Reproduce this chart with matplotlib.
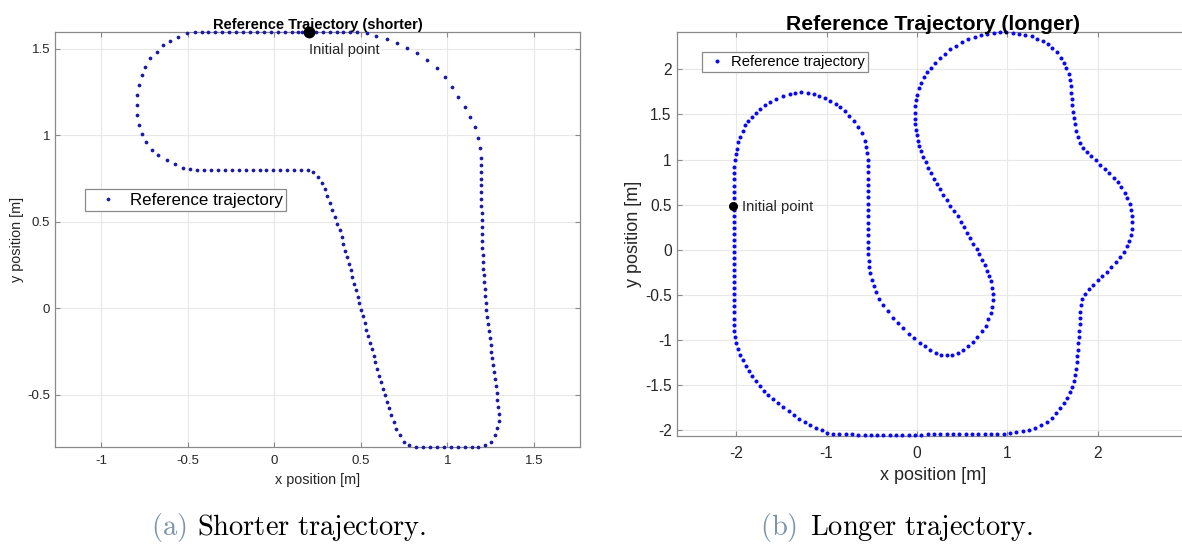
import matplotlib.pyplot as plt

plt.rcParams['font.family'] = ['Liberation Sans', 'DejaVu Sans']
plt.rcParams['mathtext.fontset'] = 'cm'

# ---- shorter trajectory (dots, in path order) ----
short_xy = [
    (0.20, 1.60), (0.24, 1.60), (0.28, 1.60), (0.32, 1.60), (0.36, 1.60), (0.40, 1.60), (0.44, 1.60), (0.48, 1.598),
    (0.535, 1.59), (0.59, 1.576), (0.65, 1.557), (0.708, 1.532), (0.766, 1.506), (0.824, 1.474), (0.88, 1.435),
    (0.94, 1.387), (0.987, 1.339), (1.026, 1.281), (1.064, 1.223), (1.103, 1.165), (1.132, 1.108), (1.161, 1.05),
    (1.18, 0.983), (1.19, 0.925), (1.194, 0.87),
    (1.195, 0.83), (1.195, 0.79), (1.195, 0.75), (1.196, 0.71), (1.196, 0.67), (1.197, 0.63), (1.197, 0.59),
    (1.198, 0.55), (1.199, 0.51), (1.200, 0.47), (1.201, 0.43), (1.202, 0.39), (1.203, 0.35), (1.204, 0.31),
    (1.205, 0.27), (1.207, 0.23), (1.210, 0.19), (1.213, 0.15), (1.216, 0.11), (1.219, 0.07), (1.222, 0.03),
    (1.226, -0.01), (1.230, -0.05), (1.235, -0.09), (1.240, -0.13), (1.245, -0.17), (1.250, -0.21), (1.255, -0.25),
    (1.260, -0.29), (1.265, -0.33), (1.270, -0.37), (1.275, -0.41), (1.280, -0.45), (1.285, -0.49), (1.290, -0.53),
    (1.294, -0.57), (1.297, -0.61), (1.297, -0.65), (1.290, -0.69),
    (1.275, -0.735), (1.25, -0.77), (1.22, -0.792),
    (1.18, -0.80), (1.14, -0.80), (1.10, -0.80), (1.06, -0.80), (1.02, -0.80), (0.98, -0.80), (0.94, -0.80),
    (0.90, -0.80), (0.86, -0.80), (0.82, -0.80),
    (0.78, -0.792), (0.75, -0.77), (0.725, -0.735), (0.705, -0.695),
    (0.690, -0.655), (0.677, -0.617), (0.665, -0.579), (0.652, -0.541), (0.640, -0.503), (0.627, -0.465),
    (0.615, -0.427), (0.605, -0.389), (0.595, -0.351), (0.584, -0.313), (0.574, -0.275), (0.564, -0.237),
    (0.554, -0.199), (0.543, -0.161), (0.533, -0.123), (0.523, -0.085), (0.513, -0.047), (0.502, -0.009),
    (0.492, 0.029), (0.482, 0.067), (0.472, 0.105), (0.461, 0.143), (0.451, 0.181), (0.441, 0.219),
    (0.431, 0.257), (0.420, 0.295), (0.410, 0.333), (0.400, 0.371), (0.390, 0.414), (0.378, 0.452),
    (0.365, 0.490), (0.351, 0.530), (0.335, 0.570), (0.321, 0.610), (0.307, 0.650), (0.292, 0.690),
    (0.274, 0.727), (0.252, 0.760), (0.225, 0.785), (0.195, 0.798),
    (0.155, 0.80), (0.115, 0.80), (0.075, 0.80), (0.035, 0.80), (-0.005, 0.80), (-0.045, 0.80), (-0.085, 0.80),
    (-0.125, 0.80), (-0.165, 0.80), (-0.205, 0.80), (-0.245, 0.80), (-0.285, 0.80), (-0.325, 0.80),
    (-0.365, 0.80), (-0.405, 0.80), (-0.445, 0.80), (-0.485, 0.803),
    (-0.525, 0.813), (-0.573, 0.832), (-0.621, 0.855), (-0.67, 0.884), (-0.708, 0.913), (-0.741, 0.96),
    (-0.766, 1.01), (-0.781, 1.06), (-0.791, 1.117), (-0.795, 1.175), (-0.791, 1.233), (-0.781, 1.291),
    (-0.766, 1.349), (-0.747, 1.397), (-0.718, 1.445), (-0.68, 1.483), (-0.641, 1.522), (-0.602, 1.545),
    (-0.554, 1.57), (-0.506, 1.59),
    (-0.46, 1.598), (-0.42, 1.60), (-0.38, 1.60), (-0.34, 1.60), (-0.30, 1.60), (-0.26, 1.60), (-0.22, 1.60),
    (-0.18, 1.60), (-0.14, 1.60), (-0.10, 1.60), (-0.06, 1.60), (-0.02, 1.60), (0.02, 1.60), (0.06, 1.60),
    (0.10, 1.60), (0.14, 1.60), (0.16, 1.60),
]
short_start = (0.2, 1.6)

# ---- longer trajectory ----
long_xy = [
    (-2.03, 0.50), (-2.03, 0.57), (-2.03, 0.64), (-2.03, 0.71), (-2.028, 0.78), (-2.025, 0.85), (-2.02, 0.92),
    (-2.01, 0.99), (-2.0, 1.06),
    (-1.99, 1.12), (-1.975, 1.19), (-1.96, 1.25), (-1.93, 1.32), (-1.90, 1.38), (-1.865, 1.43), (-1.83, 1.47),
    (-1.78, 1.52), (-1.74, 1.56), (-1.68, 1.605), (-1.63, 1.64), (-1.56, 1.675), (-1.48, 1.70), (-1.41, 1.725),
    (-1.35, 1.74), (-1.28, 1.745), (-1.21, 1.74), (-1.14, 1.728), (-1.08, 1.705), (-1.02, 1.68), (-0.96, 1.65),
    (-0.90, 1.615), (-0.85, 1.58), (-0.80, 1.54), (-0.75, 1.48), (-0.70, 1.43), (-0.65, 1.36), (-0.61, 1.29),
    (-0.58, 1.21), (-0.56, 1.14), (-0.55, 1.07), (-0.54, 1.0),
    (-0.538, 0.93), (-0.538, 0.86), (-0.538, 0.79), (-0.538, 0.72), (-0.538, 0.65), (-0.538, 0.58),
    (-0.538, 0.51), (-0.538, 0.44), (-0.538, 0.37), (-0.538, 0.30), (-0.538, 0.23), (-0.538, 0.16),
    (-0.538, 0.09), (-0.538, 0.02), (-0.536, -0.05), (-0.534, -0.12), (-0.53, -0.19),
    (-0.52, -0.26), (-0.50, -0.33), (-0.478, -0.40), (-0.45, -0.47), (-0.415, -0.54), (-0.37, -0.61),
    (-0.32, -0.68), (-0.27, -0.75), (-0.21, -0.81), (-0.15, -0.87), (-0.09, -0.93), (-0.03, -0.98),
    (0.03, -1.03), (0.09, -1.07), (0.15, -1.11), (0.21, -1.14), (0.27, -1.16), (0.33, -1.17), (0.39, -1.165),
    (0.45, -1.14), (0.51, -1.11), (0.57, -1.07), (0.62, -1.02), (0.67, -0.96), (0.72, -0.90), (0.76, -0.84),
    (0.79, -0.77), (0.815, -0.70), (0.83, -0.63), (0.84, -0.56), (0.84, -0.49), (0.835, -0.42), (0.82, -0.35),
    (0.80, -0.29), (0.78, -0.23), (0.75, -0.17), (0.72, -0.11), (0.69, -0.05), (0.66, 0.01), (0.625, 0.07),
    (0.59, 0.13), (0.555, 0.19), (0.52, 0.25), (0.485, 0.31), (0.45, 0.37), (0.41, 0.43), (0.37, 0.49),
    (0.33, 0.55), (0.29, 0.61), (0.255, 0.67), (0.22, 0.73), (0.19, 0.79), (0.155, 0.85), (0.125, 0.91),
    (0.095, 0.97), (0.07, 1.03), (0.045, 1.09), (0.025, 1.15), (0.01, 1.21), (0.0, 1.27), (-0.01, 1.33),
    (-0.02, 1.39), (-0.025, 1.45), (-0.025, 1.52), (-0.02, 1.59), (-0.01, 1.66), (0.005, 1.72), (0.025, 1.79),
    (0.05, 1.85), (0.08, 1.91), (0.115, 1.97), (0.155, 2.02), (0.2, 2.07), (0.25, 2.12), (0.31, 2.17),
    (0.37, 2.22), (0.43, 2.26), (0.50, 2.30), (0.57, 2.335), (0.64, 2.36), (0.71, 2.38), (0.78, 2.395),
    (0.85, 2.405), (0.92, 2.41), (0.99, 2.41), (1.06, 2.405), (1.13, 2.395), (1.20, 2.38), (1.27, 2.365),
    (1.33, 2.34), (1.39, 2.315), (1.45, 2.285), (1.50, 2.24), (1.55, 2.19), (1.59, 2.13), (1.625, 2.07),
    (1.655, 2.01), (1.68, 1.95), (1.695, 1.88), (1.705, 1.81), (1.71, 1.74), (1.715, 1.67), (1.72, 1.60),
    (1.725, 1.53), (1.733, 1.46), (1.745, 1.39), (1.76, 1.32), (1.78, 1.25), (1.805, 1.185), (1.84, 1.13),
    (1.88, 1.08), (1.93, 1.035), (1.98, 0.99), (2.03, 0.945), (2.08, 0.90), (2.13, 0.85), (2.18, 0.80),
    (2.22, 0.75), (2.26, 0.695), (2.30, 0.635), (2.33, 0.575), (2.355, 0.51), (2.37, 0.445), (2.38, 0.375),
    (2.385, 0.305), (2.38, 0.235), (2.37, 0.165), (2.35, 0.10), (2.32, 0.04), (2.29, -0.02), (2.245, -0.08),
    (2.20, -0.135), (2.15, -0.19), (2.10, -0.24), (2.05, -0.29), (2.00, -0.335), (1.95, -0.385), (1.90, -0.435),
    (1.86, -0.49), (1.83, -0.55), (1.815, -0.615), (1.805, -0.685), (1.80, -0.755), (1.80, -0.825),
    (1.795, -0.895), (1.79, -0.965), (1.785, -1.035), (1.78, -1.105), (1.775, -1.175), (1.77, -1.245),
    (1.76, -1.315), (1.75, -1.385), (1.735, -1.45), (1.715, -1.515), (1.69, -1.58), (1.66, -1.64),
    (1.625, -1.70), (1.585, -1.755), (1.54, -1.81), (1.49, -1.86), (1.435, -1.905), (1.375, -1.945),
    (1.31, -1.975), (1.24, -1.995), (1.17, -2.01), (1.10, -2.02), (1.03, -2.03),
    (0.96, -2.035), (0.89, -2.037), (0.82, -2.038), (0.75, -2.04), (0.68, -2.04), (0.61, -2.042),
    (0.54, -2.042), (0.47, -2.043), (0.40, -2.043), (0.33, -2.044), (0.26, -2.044), (0.19, -2.045),
    (0.12, -2.045), (0.05, -2.046), (-0.02, -2.046), (-0.09, -2.047), (-0.16, -2.047), (-0.23, -2.048),
    (-0.30, -2.048), (-0.37, -2.048), (-0.44, -2.048), (-0.51, -2.048), (-0.58, -2.047), (-0.65, -2.046),
    (-0.72, -2.045), (-0.79, -2.043), (-0.86, -2.04), (-0.93, -2.035),
    (-0.99, -2.025), (-1.055, -2.0), (-1.12, -1.975), (-1.18, -1.945), (-1.24, -1.91), (-1.30, -1.875),
    (-1.36, -1.835), (-1.42, -1.79), (-1.48, -1.745), (-1.54, -1.70), (-1.595, -1.655), (-1.645, -1.61),
    (-1.695, -1.56), (-1.74, -1.51), (-1.785, -1.455), (-1.825, -1.40), (-1.86, -1.345), (-1.895, -1.285),
    (-1.925, -1.225), (-1.955, -1.165), (-1.98, -1.10), (-2.0, -1.035), (-2.012, -0.965), (-2.02, -0.895),
    (-2.025, -0.828), (-2.028, -0.761), (-2.03, -0.694), (-2.03, -0.627), (-2.03, -0.560), (-2.03, -0.493),
    (-2.03, -0.426), (-2.03, -0.359), (-2.03, -0.292), (-2.03, -0.225), (-2.03, -0.158), (-2.03, -0.091),
    (-2.03, -0.024), (-2.03, 0.043), (-2.03, 0.110), (-2.03, 0.177), (-2.03, 0.244), (-2.03, 0.311),
    (-2.03, 0.378), (-2.03, 0.445),
]
long_start = (-2.035, 0.49)

short_xlim = (-1.267, 1.767)
short_ylim = (-0.8, 1.6)
short_xticks = [-1, -0.5, 0, 0.5, 1, 1.5]
short_yticks = [-0.5, 0, 0.5, 1, 1.5]
long_xlim = (-2.652, 3.0)
long_ylim = (-2.06, 2.41)
long_xticks = [-2, -1, 0, 1, 2]
long_yticks = [-2, -1.5, -1, -0.5, 0, 0.5, 1, 1.5, 2]


def tick_fmt(v):
    return '%g' % v


def style_axes(ax, xticks, yticks, xlim, ylim, tsize, tpad_x, tpad_y):
    ax.set_xlim(*xlim)
    ax.set_ylim(*ylim)
    ax.set_xticks(xticks)
    ax.set_yticks(yticks)
    ax.set_xticklabels([tick_fmt(v) for v in xticks])
    ax.set_yticklabels([tick_fmt(v) for v in yticks])
    ax.grid(True, color='#e8e8e8', linewidth=0.8)
    ax.set_axisbelow(True)
    for s in ax.spines.values():
        s.set_color('#8a8a8a')
        s.set_linewidth(0.9)
    ax.tick_params(direction='in', length=3.5, width=0.8, color='#8a8a8a',
                   labelcolor='#262626', labelsize=tsize, top=True, right=True)
    ax.tick_params(axis='x', pad=tpad_x)
    ax.tick_params(axis='y', pad=tpad_y)


fig = plt.figure(figsize=(11.82, 5.44), dpi=100)

# left panel
ax1 = fig.add_axes([55 / 1182, 1 - 446.7 / 544, 525 / 1182, 415.2 / 544])
style_axes(ax1, short_xticks, short_yticks, short_xlim, short_ylim, 9.5, 6, 3.6)
sx, sy = zip(*short_xy)
ax1.plot(sx, sy, linestyle='none', marker='o', markersize=2.7, markeredgewidth=0,
         color='#1a1aa6', label='Reference trajectory', clip_on=False, zorder=3)
ax1.plot(*short_start, marker='o', markersize=7.5, color='black', clip_on=False, zorder=4)
ax1.text(short_start[0], short_start[1] - 0.107, 'Initial point', fontsize=10.5,
         ha='left', va='center', color='#262626')
ax1.set_title('Reference Trajectory (shorter)', fontsize=10.5, fontweight='bold', pad=2)
ax1.set_xlabel('x position [m]', fontsize=10.4, color='#262626', labelpad=4)
ax1.set_ylabel('y position [m]', fontsize=10.4, color='#262626', labelpad=2)
leg1 = ax1.legend(loc='upper left', bbox_to_anchor=(0.057, 0.62), fontsize=12.2, numpoints=1,
                  fancybox=False, framealpha=1, edgecolor='#8a8a8a', borderpad=0.2,
                  handlelength=2.27, handletextpad=0.18, borderaxespad=0, markerscale=1.0)
leg1.get_frame().set_linewidth(0.9)

# right panel (extends past the right edge of the picture)
ax2 = fig.add_axes([677.3 / 1182, 1 - 435.8 / 544, 510.7 / 1182, 403.5 / 544])
style_axes(ax2, long_xticks, long_yticks, long_xlim, long_ylim, 11.2, 7, 4)
lx, ly = zip(*long_xy)
ax2.plot(lx, ly, linestyle='none', marker='o', markersize=2.9, markeredgewidth=0,
         color='#0a0af0', label='Reference trajectory', clip_on=False, zorder=3)
ax2.plot(*long_start, marker='o', markersize=5.5, color='black', zorder=4)
ax2.text(long_start[0] + 0.1, long_start[1] - 0.01, 'Initial point', fontsize=10.6,
         ha='left', va='center', color='#262626')
ax2.set_title('Reference Trajectory (longer)', fontsize=15.2, fontweight='bold', pad=2)
ax2.set_xlabel('x position [m]', fontsize=13, color='#262626', labelpad=5)
ax2.set_ylabel('y position [m]', fontsize=13, color='#262626', labelpad=2)
leg2 = ax2.legend(loc='upper left', bbox_to_anchor=(0.048, 0.95), fontsize=10.6, numpoints=1,
                  fancybox=False, framealpha=1, edgecolor='#8a8a8a', borderpad=0.2,
                  handlelength=1.6, handletextpad=0.2, borderaxespad=0, markerscale=1.0)
leg2.get_frame().set_linewidth(0.9)

# sub-captions
cap_color = '#7b93ab'
fig.text(187 / 1182, 9 / 544, r'$\mathrm{(a)}$', fontsize=20.5, color=cap_color, ha='right', va='baseline')
fig.text(197 / 1182, 9 / 544, r'$\mathrm{Shorter\ trajectory.}$', fontsize=20.5, color='black',
         ha='left', va='baseline')
fig.text(797.5 / 1182, 9 / 544, r'$\mathrm{(b)}$', fontsize=20.5, color=cap_color, ha='right', va='baseline')
fig.text(810 / 1182, 9 / 544, r'$\mathrm{Longer\ trajectory.}$', fontsize=20.5, color='black',
         ha='left', va='baseline')

fig.savefig('out.png', dpi=100)
